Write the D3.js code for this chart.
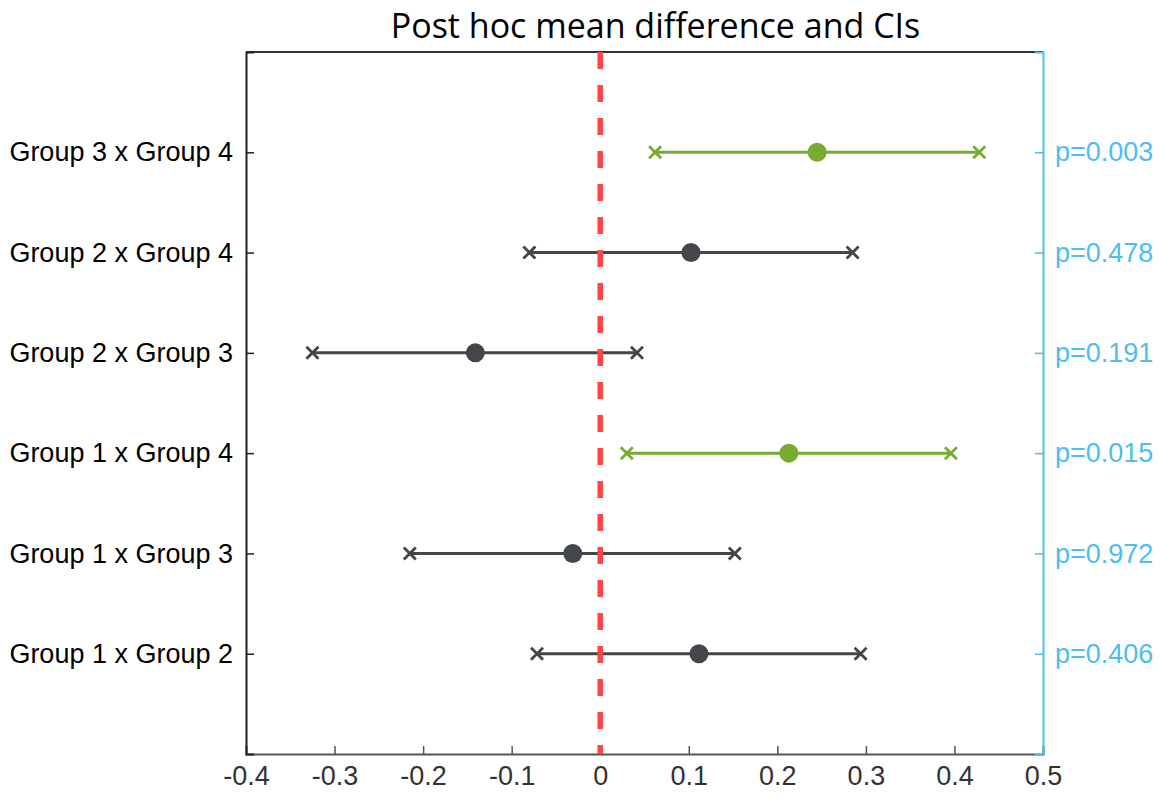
<!DOCTYPE html>
<html><head><meta charset="utf-8">
<script src="https://cdn.jsdelivr.net/npm/d3@7"></script>
<style>body{margin:0;background:#fff}</style>
</head><body>
<svg id="c" width="1160" height="801"></svg>
<script>
const comparisons = ["Group 1 x Group 2","Group 1 x Group 3","Group 1 x Group 4","Group 2 x Group 3","Group 2 x Group 4","Group 3 x Group 4"];
const meanDiff = [0.1115, -0.031, 0.213, -0.141, 0.1025, 0.245];
const lowerCI = [-0.0714, -0.215, 0.030, -0.325, -0.080, 0.062];
const upperCI = [0.294, 0.152, 0.396, 0.0415, 0.285, 0.428];
const pValues = ["p=0.406","p=0.972","p=0.015","p=0.191","p=0.478","p=0.003"];
const significant = [false,false,true,false,false,true];
const xTicks = [-0.4,-0.3,-0.2,-0.1,0,0.1,0.2,0.3,0.4,0.5];

const svg = d3.select("#c");
const L=246, R=1043, T=52, B=754;
const x = d3.scaleLinear().domain([-0.4,0.5]).range([L,R]);
const y = d3.scaleLinear().domain([0,7]).range([B,T]);
const green="#77ac30", gray="#43474b", blue="#4dbeee", red="#ff4545";
const font="Liberation Sans, Arial, sans-serif";

// bottom axis
const xa = svg.append("g").attr("transform",`translate(0,${B})`)
  .call(d3.axisBottom(x).tickValues(xTicks).tickSize(-8).tickPadding(12).tickFormat(d=>d===0?"0":String(d)));
xa.select(".domain").attr("stroke","#555").attr("stroke-width",2);
xa.selectAll(".tick line").attr("stroke","#555").attr("stroke-width",1.5);
xa.selectAll("text").attr("font-family",font).attr("font-size",27).attr("fill","#333");

// top line
svg.append("line").attr("x1",L).attr("x2",R).attr("y1",T).attr("y2",T).attr("stroke","#333").attr("stroke-width",2);

// left axis
const ya = svg.append("g").attr("transform",`translate(${L},0)`)
  .call(d3.axisLeft(y).tickValues(d3.range(1,7)).tickSize(-8).tickPadding(13).tickFormat(d=>comparisons[d-1]));
ya.select(".domain").attr("stroke","#222").attr("stroke-width",2);
ya.selectAll(".tick line").attr("stroke","#222").attr("stroke-width",1.5);
ya.selectAll("text").attr("font-family",font).attr("font-size",27).attr("fill","#000");

// right axis
const ra = svg.append("g").attr("transform",`translate(${R},0)`)
  .call(d3.axisRight(y).tickValues(d3.range(1,7)).tickSize(-8).tickPadding(12).tickFormat(d=>pValues[d-1]));
ra.select(".domain").attr("stroke",blue).attr("stroke-width",2);
ra.selectAll(".tick line").attr("stroke",blue).attr("stroke-width",1.5);
ra.selectAll("text").attr("font-family",font).attr("font-size",27).attr("fill",blue);

// title
svg.append("text").attr("x",(L+R)/2+11).attr("y",38).attr("text-anchor","middle")
  .attr("font-family","Open Sans, Noto Sans, sans-serif").attr("font-size",34).attr("fill","#000")
  .text("Post hoc mean difference and CIs");

const idx = d3.range(comparisons.length);
const g = svg.append("g");
g.selectAll("line.ci").data(idx).join("line")
  .attr("x1",i=>x(lowerCI[i])).attr("x2",i=>x(upperCI[i]))
  .attr("y1",i=>y(i+1)).attr("y2",i=>y(i+1))
  .attr("stroke",i=>significant[i]?green:gray).attr("stroke-width",3);
const cross = (sel, val) => {
  const s=6;
  sel.each(function(i){
    const cx=x(val[i]), cy=y(i+1), c=significant[i]?green:gray;
    const gg=d3.select(this);
    gg.append("line").attr("x1",cx-s).attr("x2",cx+s).attr("y1",cy-s).attr("y2",cy+s).attr("stroke",c).attr("stroke-width",2.8);
    gg.append("line").attr("x1",cx-s).attr("x2",cx+s).attr("y1",cy+s).attr("y2",cy-s).attr("stroke",c).attr("stroke-width",2.8);
  });
};
g.selectAll("g.lo").data(idx).join("g").call(cross, lowerCI);
g.selectAll("g.hi").data(idx).join("g").call(cross, upperCI);
g.selectAll("circle").data(idx).join("circle")
  .attr("cx",i=>x(meanDiff[i])).attr("cy",i=>y(i+1)).attr("r",9.5)
  .attr("fill",i=>significant[i]?green:gray);

// zero line
svg.append("line").attr("x1",x(0)).attr("x2",x(0)).attr("y1",T).attr("y2",B)
  .attr("stroke",red).attr("stroke-width",5.5).attr("stroke-dasharray","17,16");
</script>
</body></html>
